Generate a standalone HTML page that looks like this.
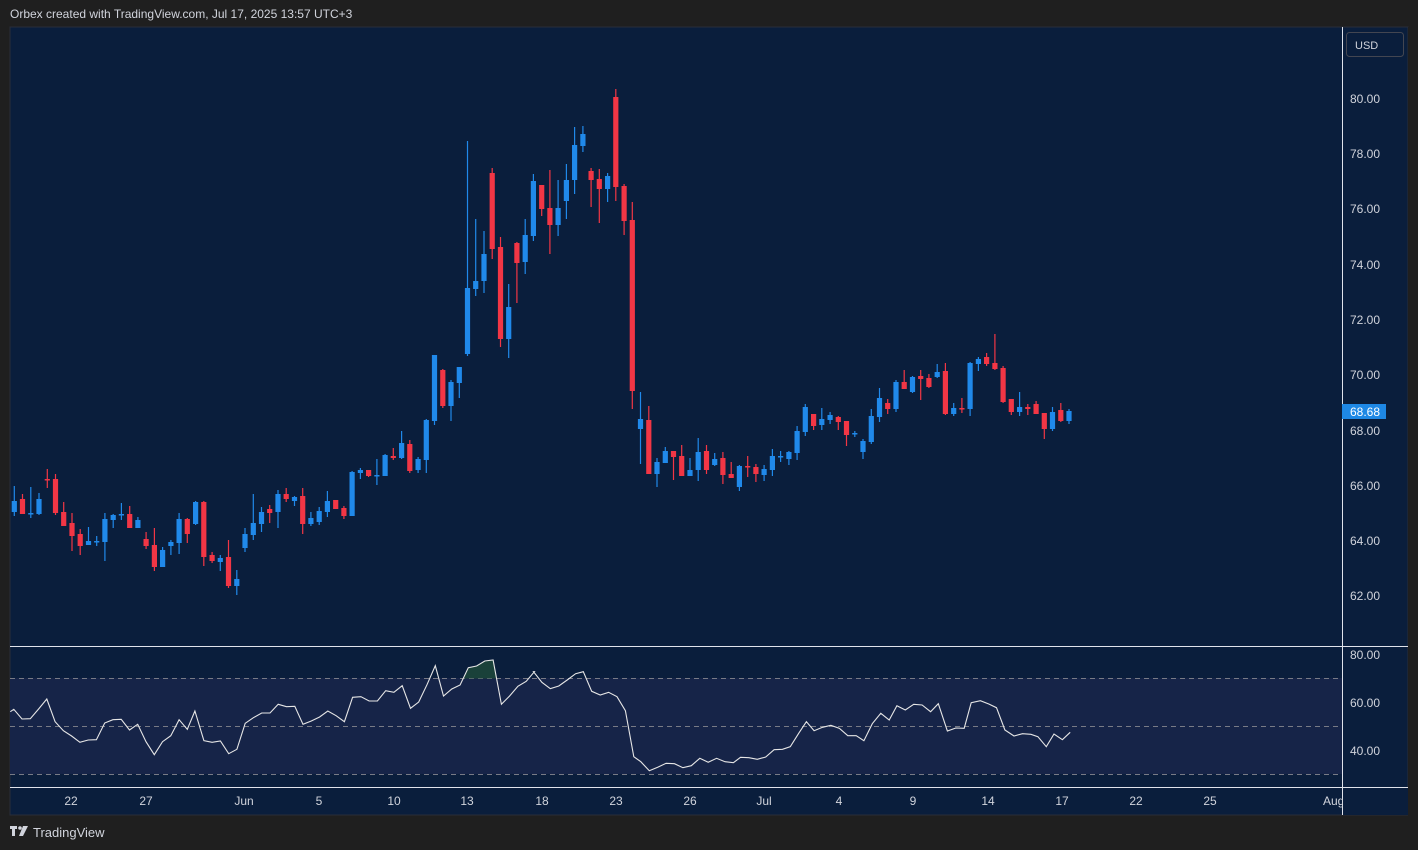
<!DOCTYPE html>
<html><head><meta charset="utf-8"><style>
html,body{margin:0;padding:0;background:#1f1f1f;width:1418px;height:850px;overflow:hidden;font-family:"Liberation Sans",sans-serif}
svg{position:absolute;left:0;top:0}
</style></head><body>
<svg id="s" width="1418" height="850" xmlns="http://www.w3.org/2000/svg">
<rect x="0" y="0" width="1418" height="850" fill="#1f1f1f"/>
<text x="10" y="18" fill="#d1d4dc" font-size="12">Orbex created with TradingView.com, Jul 17, 2025 13:57 UTC+3</text>
<rect x="10" y="27" width="1398" height="788" fill="#0a1e3c" stroke="#2a2e39" stroke-width="1"/>
<rect x="10" y="678" width="1332" height="96" fill="#162448"/>
<g stroke="#787b86" stroke-dasharray="5,4" stroke-width="1">
<line x1="10" y1="678.5" x2="1342" y2="678.5"/><line x1="10" y1="726.5" x2="1342" y2="726.5"/><line x1="10" y1="774.5" x2="1342" y2="774.5"/>
</g>
<g stroke="#e0e3eb" stroke-width="1">
<line x1="10" y1="646.5" x2="1408" y2="646.5"/><line x1="10" y1="787.5" x2="1408" y2="787.5"/><line x1="1342.5" y1="27" x2="1342.5" y2="815"/>
</g>
<g id="c"></g>
<polygon points="463,678.5 468.3,667.7 476.6,666 484.8,661 493.1,660 496.6,678.5" fill="#1e4a3a" opacity="0.8"/>
<polyline id="r" fill="none" stroke="#e6e6e6" stroke-width="1.1"/>
<g fill="#d1d4dc" font-size="12">
<text x="1350" y="103">80.00</text><text x="1350" y="158">78.00</text><text x="1350" y="213">76.00</text><text x="1350" y="269">74.00</text><text x="1350" y="324">72.00</text><text x="1350" y="379">70.00</text><text x="1350" y="435">68.00</text><text x="1350" y="490">66.00</text><text x="1350" y="545">64.00</text><text x="1350" y="600">62.00</text>
<text x="1350" y="659">80.00</text><text x="1350" y="707">60.00</text><text x="1350" y="755">40.00</text>
</g>
<rect x="1342" y="404" width="44" height="15" fill="#1e88e5"/>
<text x="1350" y="416" fill="#fff" font-size="12">68.68</text>
<rect x="1346.5" y="32.5" width="57" height="24" rx="3" fill="#0a1e3c" stroke="#434651"/>
<text x="1355" y="49" fill="#d1d4dc" font-size="11">USD</text>
<g fill="#d1d4dc" font-size="12" text-anchor="middle">
<text x="71" y="805">22</text><text x="146" y="805">27</text><text x="244" y="805">Jun</text><text x="319" y="805">5</text><text x="394" y="805">10</text><text x="467" y="805">13</text><text x="542" y="805">18</text><text x="616" y="805">23</text><text x="690" y="805">26</text><text x="764" y="805">Jul</text><text x="839" y="805">4</text><text x="913" y="805">9</text><text x="988" y="805">14</text><text x="1062" y="805">17</text><text x="1136" y="805">22</text><text x="1210" y="805">25</text>
</g>
<text x="1323" y="805" fill="#d1d4dc" font-size="12">Aug</text>
<rect x="1343" y="788" width="65" height="27" fill="#0a1e3c"/>
<rect x="1408" y="27" width="10" height="800" fill="#1f1f1f"/>
<g fill="#d1d4dc"><rect x="10" y="826" width="7" height="3"/><rect x="12" y="826" width="3" height="10"/><circle cx="20" cy="828" r="1.8"/><polygon points="23,826 28,826 23,836 19,836"/></g>
<text x="33" y="837" fill="#d1d4dc" font-size="13">TradingView</text>
</svg>
<script>
var B='#2089ea',R='#f23645';
var d=[
['b',501,512,486,516],['r',499,514,494,514],['b',513,513,487,518],['b',499,514,493,515],['r',479,479,469,488],['r',479,513,474,515],['r',512,526,502,526],['r',523,536,513,551],['r',534,546,529,555],['b',541,545,527,545],
['b',541,541,536,546],['b',519,542,513,561],['b',515,520,514,528],['b',514,514,503,520],['r',514,528,506,528],['b',520,528,517,528],['r',539,546,532,549],['r',545,567,528,571],['b',550,567,547,567],['b',542,546,540,555],
['b',519,543,513,554],['r',519,534,518,543],['b',502,524,501,525],['r',502,557,501,566],['r',555,561,552,563],['b',558,562,555,571],['r',557,586,540,588],['b',579,586,570,595],['b',534,548,528,552],['b',523,535,494,540],
['b',512,524,507,532],['r',509,513,505,523],['b',494,512,490,528],['r',494,499,488,502],['b',497,501,496,506],['r',496,524,488,534],['b',518,524,512,526],['b',511,522,507,525],['b',501,512,491,517],['r',500,509,500,509],
['r',508,516,506,519],['b',472,516,471,516],['b',470,473,468,479],['r',470,476,470,477],['b',475,475,459,485],['b',455,476,454,476],['r',456,458,448,460],['b',443,458,431,459],['r',444,471,440,473],['b',459,470,457,473],
['b',420,460,419,473],['b',355,421,355,425],['r',370,406,369,408],['b',382,406,380,421],['b',367,383,367,398],['b',288,354,141,356],['b',281,289,219,296],['b',254,281,231,293],['r',173,249,168,259],['r',247,339,237,347],
['b',307,339,284,358],['r',243,263,242,303],['b',235,262,219,274],['b',181,236,174,241],['r',185,209,185,216],['r',208,225,170,254],['b',208,225,180,236],['b',180,201,164,219],['b',145,180,127,194],['b',134,146,126,152],
['r',171,180,168,207],['r',179,189,169,223],['b',176,189,173,202],['r',97,187,89,201],['r',186,221,184,235],['r',220,391,202,409],['b',419,429,392,464],['r',420,474,406,474],['b',462,474,458,487],['b',451,463,447,463],
['r',451,457,451,480],['r',456,476,445,476],['b',470,476,458,476],['b',452,470,438,481],['r',451,470,445,474],['b',459,465,453,466],['r',458,475,452,484],['r',474,478,462,478],['b',466,487,465,491],['r',466,466,456,477],
['r',467,474,464,482],['b',469,475,465,481],['b',456,470,449,476],['b',456,456,451,462],['b',452,459,451,465],['b',431,453,426,460],['b',407,432,404,436],['r',414,426,414,430],['b',419,425,408,430],['b',415,420,412,424],
['r',417,422,416,430],['r',421,435,421,446],['b',433,433,431,437],['b',441,452,439,459],['b',416,442,409,444],['b',398,417,388,422],['r',403,409,399,414],['b',382,409,380,412],['r',382,389,370,389],['b',377,392,376,393],
['r',376,379,370,400],['r',378,387,374,388],['b',372,377,364,378],['r',371,414,363,415],['b',408,414,403,416],['r',408,408,398,413],['b',363,409,362,416],['b',359,364,357,371],['r',357,364,353,366],['r',363,369,334,370],
['r',368,402,366,403],['r',399,412,399,415],['b',407,412,392,416],['r',407,409,404,415],['r',404,414,401,414],['r',413,429,413,439],['b',412,429,407,431],['r',410,421,403,422],['b',411,421,409,424]];
var g='';
for(var k=0;k<d.length;k++){var c=d[k],x=14.3+8.24*k,col=c[0]=='b'?B:R;
g+='<line x1="'+x.toFixed(1)+'" x2="'+x.toFixed(1)+'" y1="'+c[3]+'" y2="'+c[4]+'" stroke="'+col+'" stroke-width="1.2"/>';
var h=Math.max(c[2]-c[1],1.5);g+='<rect x="'+(x-2.6).toFixed(1)+'" y="'+c[1]+'" width="5.2" height="'+h+'" fill="'+col+'"/>';}
document.getElementById('c').innerHTML=g;
var a=[[30,200],[40,193],[64,222],[88,221],[112,192],[136,162],[160,230],[184,257],[208,273],[232,292],[256,285],[280,284],[304,234],[328,224],[352,223],[376,255],[400,238],[424,290],[448,329],[472,290],[496,272],[520,224],[544,253],[566,198],[592,287],[616,292],[640,288],[664,326],[688,313],[712,235],[736,218],[760,204],[784,204],[808,178],[832,185],[856,184],[880,238],[904,228],[928,216],[952,198],[976,212],[1000,230],[1024,157],[1048,155],[1072,168],[1096,168],[1120,137],[1144,142],[1168,122],[1192,190],[1216,171],[1240,119],[1264,62],[1288,153],[1312,132],[1336,120],[1360,68],[1384,63],[1408,48],[1432,45],[1456,178],[1480,153],[1504,124],[1528,109],[1552,80]];
var b=[[10,80],[34,112],[58,131],[82,123],[106,105],[130,86],[152,80],[176,139],[200,150],[224,142],[248,155],[272,197],[296,335],[316,350],[340,377],[364,367],[388,355],[412,356],[436,368],[460,362],[484,340],[508,352],[532,340],[556,350],[580,353],[600,337],[624,338],[648,343],[672,336],[696,314],[720,313],[742,305],[766,265],[788,230],[810,257],[834,247],[858,241],[882,250],[906,272],[930,272],[952,287],[976,236],[1000,205],[1024,225],[1046,182],[1070,195],[1094,178],[1118,180],[1142,200],[1164,176],[1190,258],[1214,249],[1238,250],[1258,173],[1284,167],[1308,177],[1330,188],[1354,255],[1380,273],[1404,266],[1428,268],[1448,275],[1472,305],[1494,267],[1518,284],[1540,262]];
var p=[];a.forEach(function(q){p.push((q[0]/2.904).toFixed(1)+','+(645+q[1]/3).toFixed(1));});
b.forEach(function(q){p.push((530+q[0]/2.851).toFixed(1)+','+(645+q[1]/3).toFixed(1));});
document.getElementById('r').setAttribute('points',p.join(' '));
</script>
</body></html>
